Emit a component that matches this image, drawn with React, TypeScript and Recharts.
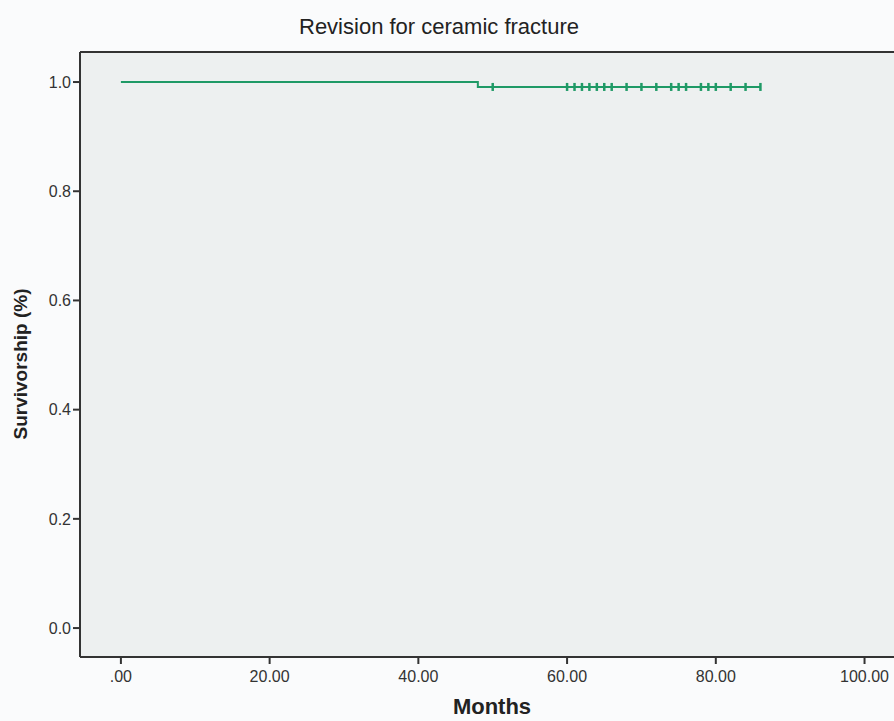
import React from "react";
import {
  ComposedChart,
  Line,
  Scatter,
  XAxis,
  YAxis,
  CartesianGrid,
  ReferenceLine,
} from "recharts";

// Kaplan-Meier step: months vs cumulative survival
const stepMonths = [0, 48, 86];
const stepSurvival = [1.0, 0.991, 0.991];

// censored cases (the little "+" marks)
const censorMonths = [50, 60, 61, 62, 63, 64, 65, 66, 68, 70, 72, 74, 75, 76, 78, 79, 80, 82, 84, 86];
const censorSurvival = 0.991;

const xTicks = [0, 20, 40, 60, 80, 100];
const yTicks = [0, 0.2, 0.4, 0.6, 0.8, 1.0];

const X_DOMAIN = [-5.5, 104.5];
const Y_DOMAIN = [-0.053, 1.055];

const LINE_COLOR = "#1f9a66";
const AXIS_COLOR = "#333333";
const FONT = "'Liberation Sans', Arial, sans-serif";

const stepData = stepMonths.map((m, i) => ({ month: m, surv: stepSurvival[i] }));
const censorData = censorMonths.map((m) => ({ month: m, surv: censorSurvival }));

const CensorMark = (props: any) => {
  const { cx, cy } = props;
  if (cx == null || cy == null) return null;
  return <line x1={cx} x2={cx} y1={cy - 4} y2={cy + 4} stroke={LINE_COLOR} strokeWidth={2.5} />;
};

const fmtX = (v: number) => (v === 0 ? ".00" : v.toFixed(2));
const fmtY = (v: number) => v.toFixed(1);

export default function App() {
  return (
    <div
      style={{
        position: "absolute",
        left: 0,
        top: 0,
        width: 894,
        height: 721,
        overflow: "hidden",
        background: "#fafbfc",
        fontFamily: FONT,
      }}
    >
      <div
        style={{
          position: "absolute",
          left: 0,
          width: 878,
          top: 16,
          lineHeight: "22px",
          textAlign: "center",
          fontSize: 22,
          color: "#222",
        }}
      >
        Revision for ceramic fracture
      </div>
      <div
        style={{
          position: "absolute",
          left: 21,
          top: 364,
          transform: "translate(-50%, -50%) rotate(-90deg)",
          whiteSpace: "nowrap",
          fontSize: 19,
          fontWeight: "bold",
          color: "#222",
        }}
      >
        Survivorship (%)
      </div>
      <div
        style={{
          position: "absolute",
          left: 492,
          top: 696,
          lineHeight: "22px",
          transform: "translateX(-50%)",
          fontSize: 22,
          fontWeight: "bold",
          color: "#222",
        }}
      >
        Months
      </div>
      <ComposedChart
        width={900}
        height={721}
        margin={{ top: 52, right: 2, bottom: 0, left: 0 }}
        style={{ position: "absolute", left: 0, top: 0 }}
      >
        <CartesianGrid horizontal={false} vertical={false} fill="#edf0f0" />
        <XAxis
          dataKey="month"
          type="number"
          domain={X_DOMAIN}
          allowDataOverflow
          ticks={xTicks}
          tickFormatter={fmtX}
          height={64}
          tickSize={7}
          axisLine={{ stroke: AXIS_COLOR, strokeWidth: 2 }}
          tickLine={{ stroke: AXIS_COLOR, strokeWidth: 2 }}
          tick={{ fill: "#333", fontSize: 16, fontFamily: FONT }}
          tickMargin={7}
        />
        <YAxis
          dataKey="surv"
          type="number"
          domain={Y_DOMAIN}
          allowDataOverflow
          ticks={yTicks}
          tickFormatter={fmtY}
          width={80}
          tickSize={7}
          axisLine={{ stroke: AXIS_COLOR, strokeWidth: 2 }}
          tickLine={{ stroke: AXIS_COLOR, strokeWidth: 2 }}
          tick={{ fill: "#333", fontSize: 16, fontFamily: FONT }}
          tickMargin={2}
        />
        <ReferenceLine y={Y_DOMAIN[1]} stroke={AXIS_COLOR} strokeWidth={2} />
        <Line
          data={stepData}
          dataKey="surv"
          type="stepAfter"
          stroke={LINE_COLOR}
          strokeWidth={2}
          dot={false}
          isAnimationActive={false}
        />
        <Scatter data={censorData} dataKey="surv" shape={<CensorMark />} isAnimationActive={false} />
      </ComposedChart>
    </div>
  );
}
